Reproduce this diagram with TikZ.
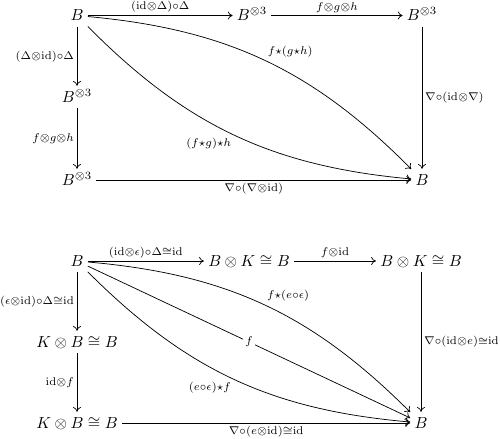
\documentclass[tikz,border=0pt]{standalone}
\usetikzlibrary{arrows.meta}
\begin{document}
\begin{tikzpicture}[x=0.625pt,y=-0.625pt,
  obj/.style={inner sep=2.5pt, text height=1.75ex, text depth=0.25ex},
  arr/.style={-{To[length=3pt,width=5pt]}, line width=0.45pt},
  lbl/.style={inner sep=1.7pt, execute at begin node=$\scriptstyle, execute at end node=$},
  desc/.style={lbl, fill=white, anchor=center, inner sep=1.5pt}]
\useasboundingbox (0,0) rectangle (500,438);
% top diagram
\node[obj] (a1) at (77,15.5) {$B$};
\node[obj] (a2) at (252,15.5) {$B^{\otimes 3}$};
\node[obj] (a3) at (422,15.5) {$B^{\otimes 3}$};
\node[obj] (a4) at (77,97) {$B^{\otimes 3}$};
\node[obj] (a5) at (77,180) {$B^{\otimes 3}$};
\node[obj] (a6) at (422,180) {$B$};
\draw[arr] (a1) -- node[lbl,above] {(\mathrm{id}\otimes\Delta)\circ\Delta} (a2);
\draw[arr] (a2) -- node[lbl,above] {f\otimes g\otimes h} (a3);
\draw[arr] (a1) -- node[lbl,left] {(\Delta\otimes\mathrm{id})\circ\Delta} (a4);
\draw[arr] (a4) -- node[lbl,left] {f\otimes g\otimes h} (a5);
\draw[arr] (a3) -- node[lbl,right] {\nabla\circ(\mathrm{id}\otimes\nabla)} (a6);
\draw[arr] (a5) -- node[lbl,below] {\nabla\circ(\nabla\otimes\mathrm{id})} (a6);
\draw[arr] (a1) to[bend left=20] node[lbl,auto] {f\star(g\star h)} (a6);
\draw[arr] (a1) to[bend right=20] node[lbl,auto=right] {(f\star g)\star h} (a6);
% bottom diagram
\node[obj] (b1) at (77,261) {$B$};
\node[obj] (b2) at (249,261) {$B\otimes K\cong B$};
\node[obj] (b3) at (421,261) {$B\otimes K\cong B$};
\node[obj] (b4) at (77,342) {$K\otimes B\cong B$};
\node[obj] (b5) at (77,423) {$K\otimes B\cong B$};
\node[obj] (b6) at (421,423) {$B$};
\draw[arr] (b1) -- node[lbl,above] {(\mathrm{id}\otimes\epsilon)\circ\Delta\cong\mathrm{id}} (b2);
\draw[arr] (b2) -- node[lbl,above] {f\otimes\mathrm{id}} (b3);
\draw[arr] (b1) -- node[lbl,left] {(\epsilon\otimes\mathrm{id})\circ\Delta\cong\mathrm{id}} (b4);
\draw[arr] (b4) -- node[lbl,left] {\mathrm{id}\otimes f} (b5);
\draw[arr] (b3) -- node[lbl,right] {\nabla\circ(\mathrm{id}\otimes e)\cong\mathrm{id}} (b6);
\draw[arr] (b5) -- node[lbl,below] {\nabla\circ(e\otimes\mathrm{id})\cong\mathrm{id}} (b6);
\draw[arr] (b1) to[bend left=20] node[lbl,auto] {f\star(e\circ\epsilon)} (b6);
\draw[arr] (b1) -- node[desc] {f} (b6);
\draw[arr] (b1) to[bend right=20] node[lbl,auto=right] {(e\circ\epsilon)\star f} (b6);
\end{tikzpicture}
\end{document}
